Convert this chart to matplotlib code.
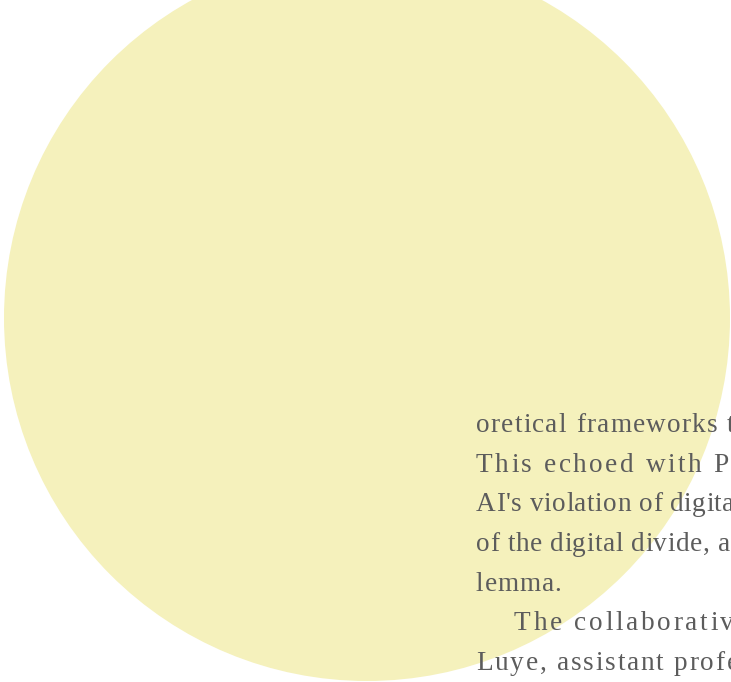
import matplotlib
matplotlib.use('Agg')
import matplotlib.pyplot as plt
from matplotlib.patches import Circle
from matplotlib.font_manager import FontProperties

# Text lines as they appear (cut by the right edge of the picture)
lines = ["oretical frameworks to",
         "This echoed with Professor",
         "AI's violation of digital",
         "of the digital divide, and",
         "lemma.",
         "The collaborative",
         "Luye, assistant professor"]
indents = [0, 0, 0, 0, 0, 38, 0]          # first-line indent of the 2nd paragraph
tracking = [1.25, 2.5, 0.55, 0.6, 0.9, 2.7, 1.8]  # letter spacing, px

W, H = 731, 682
fig = plt.figure(figsize=(W / 100, H / 100), dpi=100)
ax = fig.add_axes([0, 0, 1, 1])
ax.set_xlim(0, W)
ax.set_ylim(H, 0)
ax.axis('off')

# Big pale yellow disc
ax.add_patch(Circle((367, 318), 363, color='#f5f1bc', lw=0))

prop = FontProperties(family='Liberation Serif', size=19.6)
renderer = fig.canvas.get_renderer()

def width(s):
    w, h, d = renderer.get_text_width_height_descent(s, prop, ismath=False)
    return w

x0, y0, step = 476, 432, 39.7
for k, line in enumerate(lines):
    y = y0 + k * step
    for i, ch in enumerate(line):
        if ch == ' ':
            continue
        x = x0 + indents[k] + width(line[:i + 1]) - width(ch) + tracking[k] * i
        if x > W:
            break
        ax.text(x, y, ch, fontproperties=prop, color='#5c5c5c',
                ha='left', va='baseline')

fig.savefig('out.png', dpi=100)
